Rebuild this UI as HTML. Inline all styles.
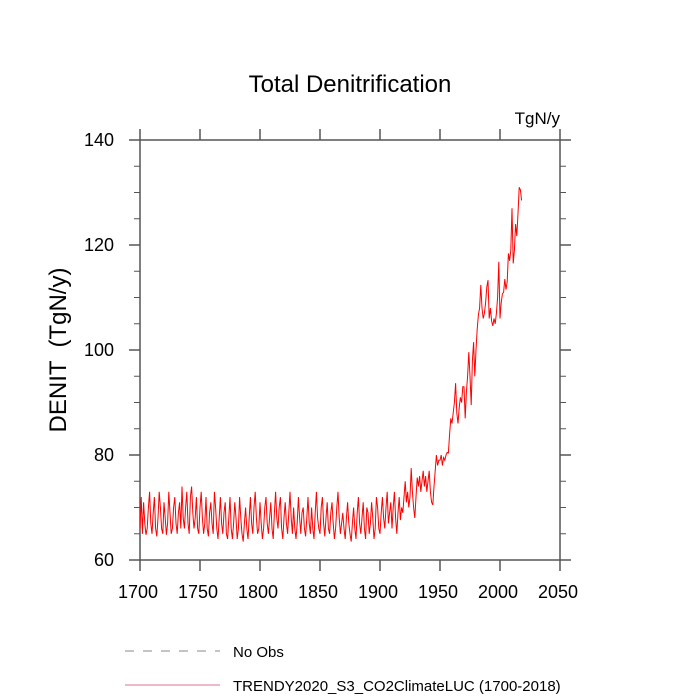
<!DOCTYPE html>
<html><head><meta charset="utf-8"><style>
body{margin:0;background:#fff;}
svg{display:block;font-family:"Liberation Sans",sans-serif;}
</style></head><body>
<svg id="chart" width="700" height="700">
<text x="350" y="92" text-anchor="middle" font-size="24">Total Denitrification</text>
<text x="560" y="124" text-anchor="end" font-size="17">TgN/y</text>
<text transform="translate(66,350) rotate(-90)" text-anchor="middle" font-size="24" xml:space="preserve" style="white-space:pre">DENIT  (TgN/y)</text>
<g id="axes"></g>
<g id="series"></g>
<g>
<line x1="125" y1="651" x2="220" y2="651" stroke="#888" stroke-width="1" stroke-dasharray="9,9"/>
<text x="233" y="657" font-size="15">No Obs</text>
<line x1="125" y1="685" x2="220" y2="685" stroke="#d04070" stroke-width="0.7"/>
<text x="233" y="691" font-size="15">TRENDY2020_S3_CO2ClimateLUC (1700-2018)</text>
</g>
</svg>
<script>
const xTicks=[1700,1750,1800,1850,1900,1950,2000,2050];
const yTicks=[60,80,100,120,140];
const startYear=1700;
const values=[
66,72,65,71,67,64.8,66,70,73,67,
65,69,72,66,64.5,68,73,70,66,65,
71,68,64.8,67,73,69,65,66,70,72,
67,65,69,71,66,74,68,66,70,73,
67,65,72,74,69,66,68,72,66,65,
70,73,68,65,67,72,66,64.5,69,71,
67,65,73,70,66,64,68,72,67,65,
69,71,65,64,68,72,66,64,67,71,
68,64,66,72,68,65,63.5,67,70,66,
64,68,72,67,65,70,73,68,65,66,
71,67,64,66,70,72,67,65,68,71,
66,64,69,73,68,66,70,72,66,64,
68,71,67,65,69,73,68,65,70,66,
64,67,72,68,65,69,70,66,64.5,68,
72,67,65,70,66,64,69,73,68,66,
65,70,72,67,64.5,68,71,66,65,69,
71,67,64,66,70,73,68,65,67,69,
66,64,68,71,67,65,63.5,67,70,66,
64,69,72,67,65,68,71,66,64,70,
69,65,67,71,68,64,66,72,70,66,
65,69,72,68,66,70,73,67,69,71,
66,70,73,68,65,69,72,67.6,70,69,
72,75,71,73,70,72,77.5,73,70,68,
72,75.7,74,76,73,75,77,74,76,73,
75,77,73,71,70.5,74,77,80,78,79,
79,80,78,79.5,79,80,80.5,80.4,84,87,
86,88,90,93.7,88,86,89,91,90,93,
93,87,92,95,99.6,95,89.5,98,101.5,95,
100,104,106.7,108,112.4,108,106,107,109,112,
113.3,106,108,105.5,104.6,106,105,107,110,116.8,
106,109,110.7,111,113.5,111.5,113,118.4,117,119,
127,116.5,119,124,121.7,126,131,130.5,128.5
];
const L=140,R=560,T=140,B=560;
function xs(v){return L+(v-1700)/(2050-1700)*(R-L);}
function ys(v){return B-(v-60)/(140-60)*(B-T);}
const NS="http://www.w3.org/2000/svg";
const ax=document.getElementById('axes');
function mk(tag,attrs,parent){const e=document.createElementNS(NS,tag);for(const k in attrs)e.setAttribute(k,attrs[k]);parent.appendChild(e);return e;}
const frame=mk('rect',{x:L,y:T,width:R-L,height:B-T,fill:'none',stroke:'#555','stroke-width':1.5},ax);


xTicks.forEach(t=>{
  const x=xs(t);
  const a=mk('line',{x1:x,y1:B,x2:x,y2:B+11,stroke:'#555','stroke-width':1.5},ax);
  
  
  const b=mk('line',{x1:x,y1:T,x2:x,y2:T-11,stroke:'#555','stroke-width':1.5},ax);
  
  
  const tx=mk('text',{x:x-2,y:B+38,'text-anchor':'middle','font-size':18},ax);
  tx.textContent=t;
  
  
});
yTicks.forEach(t=>{
  const y=ys(t);
  const a=mk('line',{x1:L,y1:y,x2:L-11,y2:y,stroke:'#555','stroke-width':1.5},ax);
  
  
  const b=mk('line',{x1:R,y1:y,x2:R+11,y2:y,stroke:'#555','stroke-width':1.5},ax);
  
  
  const tx=mk('text',{x:L-26,y:y+6,'text-anchor':'end','font-size':18},ax);
  tx.textContent=t;
  
  
});
for(let v=60;v<=140;v+=5){
  if(v%20===0)continue;
  const y=ys(v);
  const a=mk('line',{x1:L,y1:y,x2:L-6,y2:y,stroke:'#555','stroke-width':1},ax);
  
  
  const b=mk('line',{x1:R,y1:y,x2:R+6,y2:y,stroke:'#555','stroke-width':1},ax);
  
  
}
const pts=values.map((v,i)=>xs(startYear+i).toFixed(1)+','+ys(v).toFixed(1)).join(' ');
const line=mk('polyline',{points:pts,fill:'none',stroke:'#ff0000','stroke-width':1},document.getElementById('series'));


</script>
</body></html>
